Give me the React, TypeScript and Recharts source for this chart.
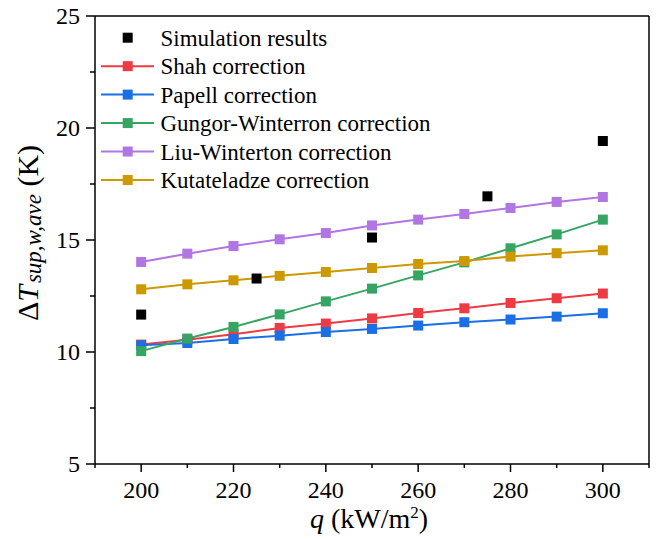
import { ComposedChart, Line, Scatter, XAxis, YAxis, ReferenceLine, Legend } from "recharts";

// heat flux q (kW/m2) for the correlation curves
const qModel = [200, 210, 220, 230, 240, 250, 260, 270, 280, 290, 300];
const shah = [10.33, 10.55, 10.79, 11.07, 11.27, 11.5, 11.74, 11.95, 12.19, 12.4, 12.61];
const papell = [10.3, 10.4, 10.58, 10.73, 10.89, 11.03, 11.18, 11.33, 11.45, 11.58, 11.73];
const gungor = [10.04, 10.6, 11.12, 11.68, 12.26, 12.83, 13.42, 14.0, 14.63, 15.25, 15.91];
const liu = [14.02, 14.39, 14.73, 15.03, 15.31, 15.65, 15.91, 16.16, 16.43, 16.7, 16.92];
const kutateladze = [12.8, 13.02, 13.2, 13.4, 13.57, 13.75, 13.93, 14.06, 14.26, 14.41, 14.54];

// simulation points
const qSim = [200, 225, 250, 275, 300];
const simulation = [11.67, 13.28, 15.11, 16.95, 19.42];

const xTicks = [190, 200, 210, 220, 230, 240, 250, 260, 270, 280, 290, 300, 310];
const yTicks = [5, 7.5, 10, 12.5, 15, 17.5, 20, 22.5, 25];

const legendOrder = [
  "Simulation results",
  "Shah correction",
  "Papell correction",
  "Gungor-Winterron correction",
  "Liu-Winterton correction",
  "Kutateladze correction",
];

const FONT = "'Liberation Serif', 'Times New Roman', serif";

const toRows = (ys: number[]) => qModel.map((q, i) => ({ q, v: ys[i] }));

const series = [
  { name: "Shah correction", color: "#ee3a43", data: toRows(shah) },
  { name: "Papell correction", color: "#1b6fe4", data: toRows(papell) },
  { name: "Gungor-Winterron correction", color: "#36a564", data: toRows(gungor) },
  { name: "Liu-Winterton correction", color: "#b176e1", data: toRows(liu) },
  { name: "Kutateladze correction", color: "#cc9900", data: toRows(kutateladze) },
];

const simData = qSim.map((q, i) => ({ q, v: simulation[i] }));

const squareDot = (color: string) => (props: any) => {
  const { cx, cy, index } = props;
  return <rect key={`${color}-${index}`} x={cx - 5} y={cy - 5} width={10} height={10} fill={color} />;
};

const XTick = (props: any) => {
  const { x, y, payload } = props;
  const v = payload.value;
  const major = v % 20 === 0 && v >= 200 && v <= 300;
  return (
    <g>
      <line x1={x} x2={x} y1={y} y2={y + (major ? 8 : 4)} stroke="#000" strokeWidth={1.5} />
      {major && (
        <text x={x} y={y + 34} textAnchor="middle" fontSize={24} style={{ fontFamily: FONT }} fill="#000">
          {v}
        </text>
      )}
    </g>
  );
};

const YTick = (props: any) => {
  const { x, y, payload } = props;
  const v = payload.value;
  const major = v % 5 === 0;
  return (
    <g>
      <line x1={x} x2={x - (major ? 9 : 5)} y1={y} y2={y} stroke="#000" strokeWidth={1.5} />
      {major && (
        <text x={x - 15} y={y} dy="0.35em" textAnchor="end" fontSize={24} style={{ fontFamily: FONT }} fill="#000">
          {v}
        </text>
      )}
    </g>
  );
};

const renderLegend = (props: any) => {
  const items = [...(props.payload || [])].sort(
    (a: any, b: any) => legendOrder.indexOf(a.value) - legendOrder.indexOf(b.value)
  );
  return (
    <svg width={480} height={200} style={{ display: "block", fontFamily: FONT }}>
      {items.map((it: any, i: number) => {
        const cy = 37.7 + i * 28.46;
        const isLine = it.value !== "Simulation results";
        return (
          <g key={it.value}>
            {isLine && <line x1={101} x2={154} y1={cy} y2={cy} stroke={it.color} strokeWidth={2} />}
            <rect x={122.7} y={cy - 5} width={10} height={10} fill={it.color} />
            <text x={160.5} y={cy + 8} fontSize={23} style={{ fontFamily: FONT }} fill="#000">
              {it.value}
            </text>
          </g>
        );
      })}
    </svg>
  );
};

const YLabel = () => {
  const cx = 38;
  const cy = 233;
  return (
    <text
      x={cx}
      y={cy}
      textAnchor="middle"
      transform={`rotate(-90, ${cx}, ${cy})`}
      style={{ fontFamily: FONT }}
      fontSize={30}
      fill="#000"
    >
      <tspan>Δ</tspan>
      <tspan fontStyle="italic">T</tspan>
      <tspan fontStyle="italic" fontSize={23} dx={2} dy={3}>sup,w,ave</tspan>
      <tspan dy={-3}> (K)</tspan>
    </text>
  );
};

const XLabel = () => {
  const cx = 369;
  const cy = 528;
  return (
    <text x={cx} y={cy} textAnchor="middle" style={{ fontFamily: FONT }} fontSize={28} fill="#000">
      <tspan fontStyle="italic">q</tspan>
      <tspan> (kW/m</tspan>
      <tspan fontSize={17} dy={-10}>2</tspan>
      <tspan dy={10}>)</tspan>
    </text>
  );
};

export default function App() {
  return (
    <div style={{ position: "absolute", left: 0, top: 0, width: 660, height: 539, background: "#fff" }}>
      <ComposedChart width={660} height={539} margin={{ top: 16, right: 11, left: 0, bottom: 0 }}>
        <XAxis
          type="number"
          dataKey="q"
          domain={[190, 310]}
          ticks={xTicks}
          interval={0}
          height={75}
          tickSize={0}
          tickMargin={0}
          tick={<XTick />}
          axisLine={{ stroke: "#000", strokeWidth: 1.5 }}
          tickLine={false}
          allowDuplicatedCategory={false}
          label={<XLabel />}
        />
        <YAxis
          type="number"
          domain={[5, 25]}
          ticks={yTicks}
          interval={0}
          width={95}
          tickSize={0}
          tickMargin={0}
          tick={<YTick />}
          axisLine={{ stroke: "#000", strokeWidth: 1.5 }}
          tickLine={false}
          label={<YLabel />}
        />
        <ReferenceLine y={25} stroke="#000" strokeWidth={1.5} />
        <ReferenceLine x={310} stroke="#000" strokeWidth={1.5} />
        {series.map((s) => (
          <Line
            key={s.name}
            name={s.name}
            data={s.data}
            dataKey="v"
            type="linear"
            stroke={s.color}
            strokeWidth={2}
            dot={squareDot(s.color)}
            activeDot={false}
            legendType="square"
            isAnimationActive={false}
          />
        ))}
        <Scatter
          name="Simulation results"
          data={simData}
          dataKey="v"
          fill="#000"
          shape={(p: any) => <rect x={p.cx - 5} y={p.cy - 5} width={10} height={10} fill="#000" />}
          legendType="square"
          isAnimationActive={false}
        />
        <Legend
          layout="vertical"
          align="center"
          verticalAlign="middle"
          content={renderLegend}
          wrapperStyle={{ left: 0, top: 0, width: 480, height: 200 }}
        />
      </ComposedChart>
    </div>
  );
}
